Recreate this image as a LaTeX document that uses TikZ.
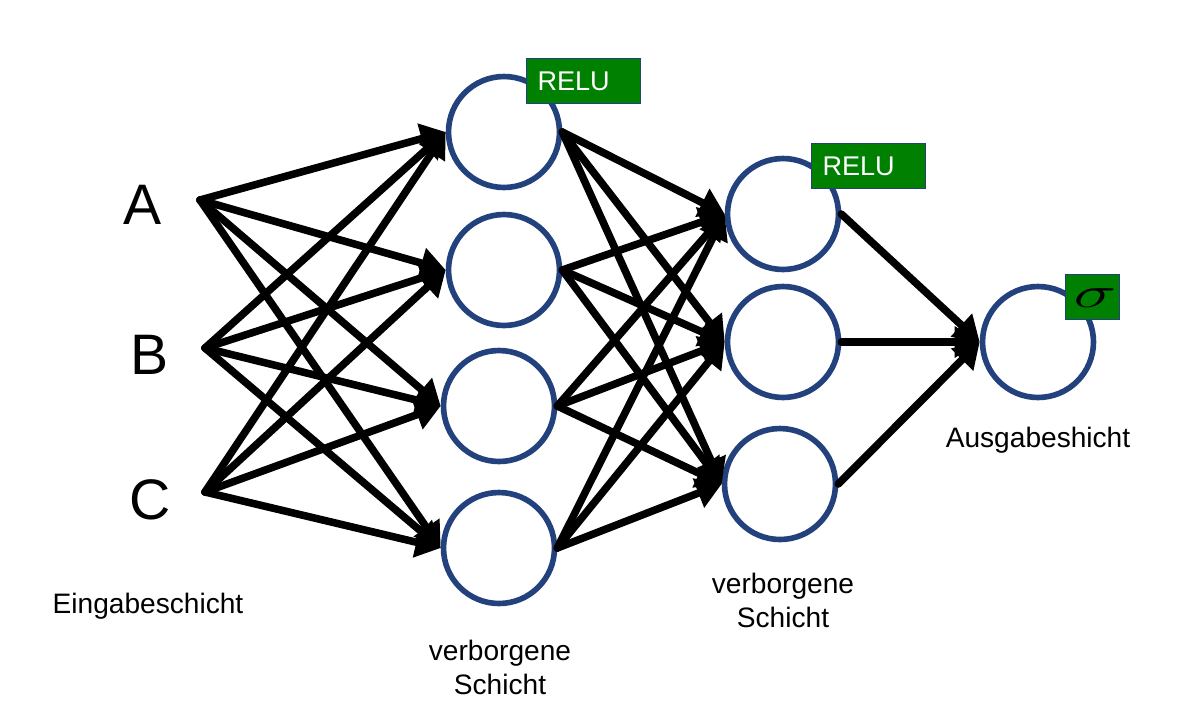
\documentclass[tikz,border=0pt]{standalone}
\usepackage{fontspec}
\setmainfont{Liberation Sans}
\usepackage{tikz}
\usetikzlibrary{arrows.meta}
\definecolor{ringblue}{RGB}{35,66,125}
\definecolor{actgreen}{RGB}{0,128,0}

\begin{document}
\begin{tikzpicture}[x=0.02cm,y=-0.02cm,
	neuron/.style={circle,draw=ringblue,line width=3.2pt,minimum size=2.22cm,inner sep=0pt},
	actbox/.style={rectangle,fill=actgreen,draw=ringblue,line width=0.6pt,anchor=north west,minimum height=0.9cm,inner sep=0pt},
	reluname/.style={text=white,text width=1.84cm,inner xsep=0.22cm,align=left,font=\fontsize{15.4}{18}\selectfont},
	inlabel/.style={anchor=base,font=\fontsize{32.5}{36}\selectfont},
	layerlabel/.style={align=center,font=\fontsize{16}{19.3}\selectfont},
	edge/.style={line width=4.3pt,line cap=round,-{Triangle[length=0.5cm,width=0.6cm]}}]
						\useasboundingbox (0,0) rectangle (1189,701);
						% Eingabe
						\coordinate (a) at (200,200);
						\coordinate (b) at (205,348);
						\coordinate (c) at (205,492);
						\node[inlabel] (la) at (143,224) {A};
						\node[inlabel] (lb) at (150,374) {B};
						\node[inlabel] (lc) at (150,519) {C};
						% erste verborgene Schicht
						\node[neuron] (h1) at (504,132) {};
						\node[neuron] (h2) at (504,270) {};
						\node[neuron] (h3) at (499,406) {};
						\node[neuron] (h4) at (499,548) {};
						% zweite verborgene Schicht
						\node[neuron] (g1) at (783,214) {};
						\node[neuron] (g2) at (783,342) {};
						\node[neuron] (g3) at (780,484) {};
						% Ausgabe
						\node[neuron] (o) at (1038,342) {};
						% Aktivierungen
						\node[actbox,reluname] (relu1) at (526,58) {RELU};
						\node[actbox,reluname] (relu2) at (811,143) {RELU};
						\node[actbox,minimum width=1.08cm] (sig) at (1065,274) {};
						\begin{scope}
						\clip (sig.north west) rectangle (sig.south east);
						\node[font=\fontsize{25}{25}\selectfont] (sigma) at (1095,298) {\scalebox{1.65}[1]{$\sigma$}};
						\end{scope}
						% Eingabe -> h
						\draw[edge] (a)--(h1.west);
						\draw[edge] (a)--(h2.west);
						\draw[edge] (a)--(h3.west);
						\draw[edge] (a)--(h4.west);
						\draw[edge] (b)--(h1.west);
						\draw[edge] (b)--(h2.west);
						\draw[edge] (b)--(h3.west);
						\draw[edge] (b)--(h4.west);
						\draw[edge] (c)--(h1.west);
						\draw[edge] (c)--(h2.west);
						\draw[edge] (c)--(h3.west);
						\draw[edge] (c)--(h4.west);
						% h -> g
						\draw[edge] (h1.east)--(g1.west);
						\draw[edge] (h1.east)--(g2.west);
						\draw[edge] (h1.east)--(g3.west);
						\draw[edge] (h2.east)--(g1.west);
						\draw[edge] (h2.east)--(g2.west);
						\draw[edge] (h2.east)--(g3.west);
						\draw[edge] (h3.east)--(g1.west);
						\draw[edge] (h3.east)--(g2.west);
						\draw[edge] (h3.east)--(g3.west);
						\draw[edge] (h4.east)--(g1.west);
						\draw[edge] (h4.east)--(g2.west);
						\draw[edge] (h4.east)--(g3.west);
						% g -> o
						\draw[edge] (g1.east)--(o.west);
						\draw[edge] (g2.east)--(o.west);
						\draw[edge] (g3.east)--(o.west);
						% Beschriftung
						\node[layerlabel,anchor=base] (lin) at (148,613) {Eingabeschicht};
						\node[layerlabel] (lh1) at (500,667) {verborgene\\Schicht};
						\node[layerlabel] (lh2) at (783,600) {verborgene\\Schicht};
						\node[layerlabel,anchor=base] (lout) at (1038,447) {Ausgabeshicht};
					\end{tikzpicture}
\end{document}
